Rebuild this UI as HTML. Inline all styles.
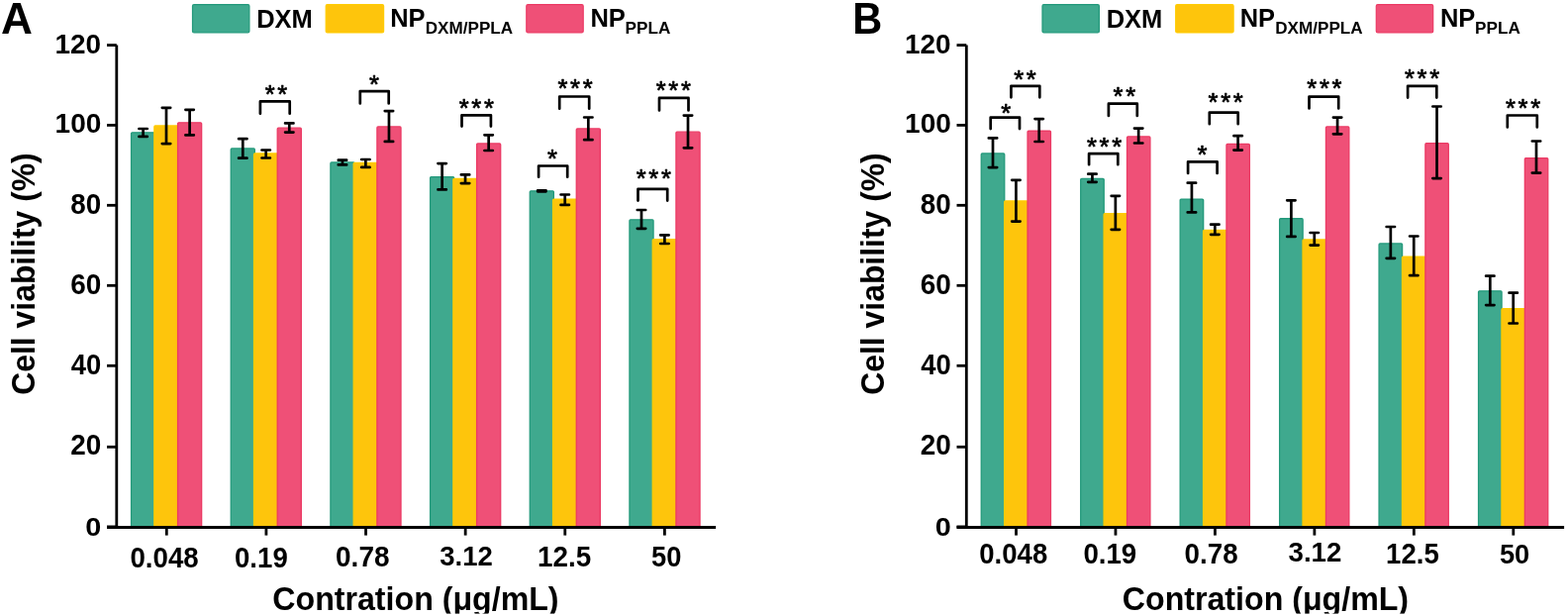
<!DOCTYPE html>
<html><head><meta charset="utf-8"><title>Cell viability</title>
<style>
html,body{margin:0;padding:0;background:#fff;}
body{width:1584px;height:622px;overflow:hidden;}
svg{display:block;}
text{font-family:'Liberation Sans',Arial,sans-serif;fill:#000;}
text.st{font-weight:400;stroke:#000;stroke-width:0.7;stroke-linejoin:round;}
path{fill:none;stroke:#000;stroke-width:2.7;stroke-linecap:round;stroke-linejoin:round;}
path.ax{stroke-width:2.8;stroke-linecap:butt;stroke-linejoin:miter;}
</style></head>
<body>
<svg width="1584" height="622" viewBox="0 0 1584 622">
<rect width="1584" height="622" fill="#fff"/>
<text x="1.10" y="33.60" font-size="43.62" font-weight="700" textLength="31.91" lengthAdjust="spacingAndGlyphs">A</text>
<text x="861.20" y="33.60" font-size="43.62" font-weight="700" textLength="29.95" lengthAdjust="spacingAndGlyphs">B</text>
<rect x="194.50" y="4.60" width="57.40" height="28.40" rx="1.5" fill="#3FA98E" stroke="#23997B" stroke-width="1.2"/>
<text x="259.14" y="27.60" font-size="26.09" font-weight="700" textLength="56.67" lengthAdjust="spacingAndGlyphs">DXM</text>
<rect x="329.20" y="4.60" width="58.40" height="28.40" rx="1.5" fill="#FEC50C" stroke="#FFCC00" stroke-width="1.2"/>
<text x="394.15" y="27.30" font-size="25.80" font-weight="700" textLength="35.32" lengthAdjust="spacingAndGlyphs">NP</text>
<text x="429.79" y="33.98" font-size="15.84" font-weight="700" textLength="88.27" lengthAdjust="spacingAndGlyphs">DXM/PPLA</text>
<rect x="531.80" y="4.60" width="57.40" height="28.40" rx="1.5" fill="#EF5077" stroke="#EB3A64" stroke-width="1.2"/>
<text x="596.44" y="27.30" font-size="25.80" font-weight="700" textLength="35.43" lengthAdjust="spacingAndGlyphs">NP</text>
<text x="631.58" y="34.30" font-size="17.10" font-weight="700" textLength="45.78" lengthAdjust="spacingAndGlyphs">PPLA</text>
<rect x="1053.00" y="4.60" width="57.40" height="28.40" rx="1.5" fill="#3FA98E" stroke="#23997B" stroke-width="1.2"/>
<text x="1117.64" y="27.60" font-size="26.09" font-weight="700" textLength="56.67" lengthAdjust="spacingAndGlyphs">DXM</text>
<rect x="1187.70" y="4.60" width="58.40" height="28.40" rx="1.5" fill="#FEC50C" stroke="#FFCC00" stroke-width="1.2"/>
<text x="1252.65" y="27.30" font-size="25.80" font-weight="700" textLength="35.32" lengthAdjust="spacingAndGlyphs">NP</text>
<text x="1288.29" y="33.98" font-size="15.84" font-weight="700" textLength="88.27" lengthAdjust="spacingAndGlyphs">DXM/PPLA</text>
<rect x="1390.30" y="4.60" width="57.40" height="28.40" rx="1.5" fill="#EF5077" stroke="#EB3A64" stroke-width="1.2"/>
<text x="1454.94" y="27.30" font-size="25.80" font-weight="700" textLength="35.43" lengthAdjust="spacingAndGlyphs">NP</text>
<text x="1490.08" y="34.30" font-size="17.10" font-weight="700" textLength="45.78" lengthAdjust="spacingAndGlyphs">PPLA</text>
<rect x="132.55" y="133.85" width="24.10" height="398.15" rx="1" fill="#3FA98E" stroke="#23997B" stroke-width="1.3"/>
<rect x="155.85" y="126.95" width="24.10" height="405.05" rx="1" fill="#FEC50C" stroke="#FFCC00" stroke-width="1.3"/>
<rect x="179.55" y="123.80" width="24.10" height="408.20" rx="1" fill="#EF5077" stroke="#EB3A64" stroke-width="1.3"/>
<rect x="233.23" y="149.95" width="24.10" height="382.05" rx="1" fill="#3FA98E" stroke="#23997B" stroke-width="1.3"/>
<rect x="256.53" y="154.95" width="24.10" height="377.05" rx="1" fill="#FEC50C" stroke="#FFCC00" stroke-width="1.3"/>
<rect x="280.23" y="129.15" width="24.10" height="402.85" rx="1" fill="#EF5077" stroke="#EB3A64" stroke-width="1.3"/>
<rect x="333.91" y="163.95" width="24.10" height="368.05" rx="1" fill="#3FA98E" stroke="#23997B" stroke-width="1.3"/>
<rect x="357.21" y="164.35" width="24.10" height="367.65" rx="1" fill="#FEC50C" stroke="#FFCC00" stroke-width="1.3"/>
<rect x="380.91" y="127.95" width="24.10" height="404.05" rx="1" fill="#EF5077" stroke="#EB3A64" stroke-width="1.3"/>
<rect x="434.59" y="178.55" width="24.10" height="353.45" rx="1" fill="#3FA98E" stroke="#23997B" stroke-width="1.3"/>
<rect x="457.89" y="180.35" width="24.10" height="351.65" rx="1" fill="#FEC50C" stroke="#FFCC00" stroke-width="1.3"/>
<rect x="481.59" y="144.95" width="24.10" height="387.05" rx="1" fill="#EF5077" stroke="#EB3A64" stroke-width="1.3"/>
<rect x="535.27" y="192.85" width="24.10" height="339.15" rx="1" fill="#3FA98E" stroke="#23997B" stroke-width="1.3"/>
<rect x="558.57" y="201.25" width="24.10" height="330.75" rx="1" fill="#FEC50C" stroke="#FFCC00" stroke-width="1.3"/>
<rect x="582.27" y="129.95" width="24.10" height="402.05" rx="1" fill="#EF5077" stroke="#EB3A64" stroke-width="1.3"/>
<rect x="635.95" y="221.85" width="24.10" height="310.15" rx="1" fill="#3FA98E" stroke="#23997B" stroke-width="1.3"/>
<rect x="659.25" y="241.65" width="24.10" height="290.35" rx="1" fill="#FEC50C" stroke="#FFCC00" stroke-width="1.3"/>
<rect x="682.95" y="133.15" width="24.10" height="398.85" rx="1" fill="#EF5077" stroke="#EB3A64" stroke-width="1.3"/>
<path d="M144.60 130.00V137.90M140.40 130.00H148.80M140.40 137.90H148.80" />
<path d="M168.00 108.80V145.10M163.80 108.80H172.20M163.80 145.10H172.20" />
<path d="M191.60 110.85V136.40M187.40 110.85H195.80M187.40 136.40H195.80" />
<path d="M245.28 140.20V159.70M241.08 140.20H249.48M241.08 159.70H249.48" />
<path d="M268.68 151.50V159.50M264.48 151.50H272.88M264.48 159.50H272.88" />
<path d="M292.28 124.40V133.60M288.08 124.40H296.48M288.08 133.60H296.48" />
<path d="M345.96 161.70V166.40M341.76 161.70H350.16M341.76 166.40H350.16" />
<path d="M369.36 161.00V168.90M365.16 161.00H373.56M365.16 168.90H373.56" />
<path d="M392.96 112.10V142.90M388.76 112.10H397.16M388.76 142.90H397.16" />
<path d="M446.64 165.05V191.40M442.44 165.05H450.84M442.44 191.40H450.84" />
<path d="M470.04 176.40V185.10M465.84 176.40H474.24M465.84 185.10H474.24" />
<path d="M493.64 136.30V152.00M489.44 136.30H497.84M489.44 152.00H497.84" />
<path d="M547.32 192.30V193.30M543.12 192.30H551.52M543.12 193.30H551.52" />
<path d="M570.72 196.50V206.90M566.52 196.50H574.92M566.52 206.90H574.92" />
<path d="M594.32 118.50V141.20M590.12 118.50H598.52M590.12 141.20H598.52" />
<path d="M648.00 212.00V230.80M643.80 212.00H652.20M643.80 230.80H652.20" />
<path d="M671.40 237.40V246.00M667.20 237.40H675.60M667.20 246.00H675.60" />
<path d="M695.00 116.60V149.30M690.80 116.60H699.20M690.80 149.30H699.20" />
<path d="M262.90 114.70V102.40H292.70V114.70" />
<text class="st" x="267.63 280.23" y="103.98" font-size="25.50">**</text>
<path d="M363.80 104.40V92.10H392.70V104.40" />
<text class="st" x="372.88" y="93.98" font-size="25.50">*</text>
<path d="M466.50 127.60V116.30H495.90V127.60" />
<text class="st" x="463.73 476.33 488.93" y="117.93" font-size="25.50">***</text>
<path d="M544.10 178.70V167.50H573.20V178.70" />
<text class="st" x="553.08" y="169.03" font-size="25.50">*</text>
<path d="M565.20 109.70V97.50H595.20V109.70" />
<text class="st" x="563.48 576.08 588.68" y="97.93" font-size="25.50">***</text>
<path d="M644.50 202.60V190.80H674.20V202.60" />
<text class="st" x="642.68 655.28 667.88" y="188.78" font-size="25.50">***</text>
<path d="M666.00 111.50V98.90H695.50V111.50" />
<text class="st" x="662.73 675.33 687.93" y="100.48" font-size="25.50">***</text>
<path class="ax" d="M117.80 45.60V532.50M108.00 532.50H723.10" />
<path class="ax" d="M108.00 45.60H117.80" />
<path class="ax" d="M108.00 126.40H117.80" />
<path class="ax" d="M108.00 207.30H117.80" />
<path class="ax" d="M108.00 288.30H117.80" />
<path class="ax" d="M108.00 369.30H117.80" />
<path class="ax" d="M108.00 451.30H117.80" />
<path class="ax" d="M108.00 531.90H117.80" />
<path class="ax" d="M168.30 532.50V540.6" />
<path class="ax" d="M268.92 532.50V540.6" />
<path class="ax" d="M369.54 532.50V540.6" />
<path class="ax" d="M470.16 532.50V540.6" />
<path class="ax" d="M570.78 532.50V540.6" />
<path class="ax" d="M671.40 532.50V540.6" />
<text x="55.42" y="53.82" font-size="28.45" font-weight="700" textLength="46.59" lengthAdjust="spacingAndGlyphs">120</text>
<text x="55.62" y="134.42" font-size="28.03" font-weight="700" textLength="46.70" lengthAdjust="spacingAndGlyphs">100</text>
<text x="71.37" y="215.71" font-size="28.59" font-weight="700" textLength="30.91" lengthAdjust="spacingAndGlyphs">80</text>
<text x="71.22" y="296.71" font-size="28.59" font-weight="700" textLength="31.06" lengthAdjust="spacingAndGlyphs">60</text>
<text x="71.79" y="377.71" font-size="28.59" font-weight="700" textLength="30.47" lengthAdjust="spacingAndGlyphs">40</text>
<text x="71.22" y="459.31" font-size="28.59" font-weight="700" textLength="31.06" lengthAdjust="spacingAndGlyphs">20</text>
<text x="86.35" y="540.84" font-size="26.06" font-weight="700" textLength="16.04" lengthAdjust="spacingAndGlyphs">0</text>
<text x="131.49" y="572.81" font-size="29.15" font-weight="700" textLength="69.20" lengthAdjust="spacingAndGlyphs">0.048</text>
<text x="236.99" y="572.81" font-size="29.15" font-weight="700" textLength="53.81" lengthAdjust="spacingAndGlyphs">0.19</text>
<text x="339.08" y="572.31" font-size="29.01" font-weight="700" textLength="54.39" lengthAdjust="spacingAndGlyphs">0.78</text>
<text x="444.31" y="571.02" font-size="28.45" font-weight="700" textLength="53.63" lengthAdjust="spacingAndGlyphs">3.12</text>
<text x="542.93" y="571.91" font-size="29.01" font-weight="700" textLength="54.20" lengthAdjust="spacingAndGlyphs">12.5</text>
<text x="658.08" y="572.21" font-size="28.87" font-weight="700" textLength="30.38" lengthAdjust="spacingAndGlyphs">50</text>
<text x="275.31" y="615.60" font-size="33.30" font-weight="700" textLength="289.27" lengthAdjust="spacingAndGlyphs">Contration (μg/mL)</text>
<text transform="translate(34.60,398.78) rotate(-90)" x="0" y="0" font-size="33.80" font-weight="700" textLength="244.52" lengthAdjust="spacingAndGlyphs">Cell viability (%)</text>
<rect x="991.25" y="154.95" width="23.50" height="377.05" rx="1" fill="#3FA98E" stroke="#23997B" stroke-width="1.3"/>
<rect x="1014.65" y="202.95" width="23.50" height="329.05" rx="1" fill="#FEC50C" stroke="#FFCC00" stroke-width="1.3"/>
<rect x="1038.05" y="132.25" width="23.40" height="399.75" rx="1" fill="#EF5077" stroke="#EB3A64" stroke-width="1.3"/>
<rect x="1091.71" y="180.35" width="23.50" height="351.65" rx="1" fill="#3FA98E" stroke="#23997B" stroke-width="1.3"/>
<rect x="1115.11" y="215.55" width="23.50" height="316.45" rx="1" fill="#FEC50C" stroke="#FFCC00" stroke-width="1.3"/>
<rect x="1138.51" y="137.95" width="23.40" height="394.05" rx="1" fill="#EF5077" stroke="#EB3A64" stroke-width="1.3"/>
<rect x="1192.17" y="201.05" width="23.50" height="330.95" rx="1" fill="#3FA98E" stroke="#23997B" stroke-width="1.3"/>
<rect x="1215.57" y="232.45" width="23.50" height="299.55" rx="1" fill="#FEC50C" stroke="#FFCC00" stroke-width="1.3"/>
<rect x="1238.97" y="145.45" width="23.40" height="386.55" rx="1" fill="#EF5077" stroke="#EB3A64" stroke-width="1.3"/>
<rect x="1292.63" y="220.75" width="23.50" height="311.25" rx="1" fill="#3FA98E" stroke="#23997B" stroke-width="1.3"/>
<rect x="1316.03" y="241.95" width="23.50" height="290.05" rx="1" fill="#FEC50C" stroke="#FFCC00" stroke-width="1.3"/>
<rect x="1339.43" y="127.95" width="23.40" height="404.05" rx="1" fill="#EF5077" stroke="#EB3A64" stroke-width="1.3"/>
<rect x="1393.09" y="245.95" width="23.50" height="286.05" rx="1" fill="#3FA98E" stroke="#23997B" stroke-width="1.3"/>
<rect x="1416.49" y="259.05" width="23.50" height="272.95" rx="1" fill="#FEC50C" stroke="#FFCC00" stroke-width="1.3"/>
<rect x="1439.89" y="144.65" width="23.40" height="387.35" rx="1" fill="#EF5077" stroke="#EB3A64" stroke-width="1.3"/>
<rect x="1493.55" y="293.85" width="23.50" height="238.15" rx="1" fill="#3FA98E" stroke="#23997B" stroke-width="1.3"/>
<rect x="1516.95" y="311.65" width="23.50" height="220.35" rx="1" fill="#FEC50C" stroke="#FFCC00" stroke-width="1.3"/>
<rect x="1540.35" y="159.55" width="23.40" height="372.45" rx="1" fill="#EF5077" stroke="#EB3A64" stroke-width="1.3"/>
<path d="M1003.00 139.40V169.10M998.80 139.40H1007.20M998.80 169.10H1007.20" />
<path d="M1026.40 181.80V223.60M1022.20 181.80H1030.60M1022.20 223.60H1030.60" />
<path d="M1049.70 120.10V143.00M1045.50 120.10H1053.90M1045.50 143.00H1053.90" />
<path d="M1103.46 175.70V183.80M1099.26 175.70H1107.66M1099.26 183.80H1107.66" />
<path d="M1126.86 197.80V231.80M1122.66 197.80H1131.06M1122.66 231.80H1131.06" />
<path d="M1150.16 129.60V144.50M1145.96 129.60H1154.36M1145.96 144.50H1154.36" />
<path d="M1203.92 184.70V214.40M1199.72 184.70H1208.12M1199.72 214.40H1208.12" />
<path d="M1227.32 226.70V236.80M1223.12 226.70H1231.52M1223.12 236.80H1231.52" />
<path d="M1250.62 137.20V151.60M1246.42 137.20H1254.82M1246.42 151.60H1254.82" />
<path d="M1304.38 202.30V238.90M1300.18 202.30H1308.58M1300.18 238.90H1308.58" />
<path d="M1327.78 235.00V247.60M1323.58 235.00H1331.98M1323.58 247.60H1331.98" />
<path d="M1351.08 118.60V135.30M1346.88 118.60H1355.28M1346.88 135.30H1355.28" />
<path d="M1404.84 229.00V260.80M1400.64 229.00H1409.04M1400.64 260.80H1409.04" />
<path d="M1428.24 238.50V278.20M1424.04 238.50H1432.44M1424.04 278.20H1432.44" />
<path d="M1451.54 107.50V180.10M1447.34 107.50H1455.74M1447.34 180.10H1455.74" />
<path d="M1505.30 278.70V308.10M1501.10 278.70H1509.50M1501.10 308.10H1509.50" />
<path d="M1528.70 295.70V326.50M1524.50 295.70H1532.90M1524.50 326.50H1532.90" />
<path d="M1552.00 142.50V174.60M1547.80 142.50H1556.20M1547.80 174.60H1556.20" />
<path d="M1000.70 130.10V118.60H1030.00V130.10" />
<text class="st" x="1011.33" y="123.43" font-size="25.50">*</text>
<path d="M1021.40 98.30V86.80H1050.30V98.30" />
<text class="st" x="1024.18 1036.78" y="88.83" font-size="25.50">**</text>
<path d="M1100.10 166.20V155.10H1129.30V166.20" />
<text class="st" x="1097.98 1110.58 1123.18" y="156.53" font-size="25.50">***</text>
<path d="M1119.90 117.00V104.70H1148.80V117.00" />
<text class="st" x="1124.58 1137.18" y="105.73" font-size="25.50">**</text>
<path d="M1200.10 175.00V163.30H1229.60V175.00" />
<text class="st" x="1209.43" y="164.78" font-size="25.50">*</text>
<path d="M1221.80 125.20V113.60H1250.70V125.20" />
<text class="st" x="1220.58 1233.18 1245.78" y="112.18" font-size="25.50">***</text>
<path d="M1322.50 109.40V97.60H1352.20V109.40" />
<text class="st" x="1320.28 1332.88 1345.48" y="98.33" font-size="25.50">***</text>
<path d="M1422.10 98.60V86.80H1451.30V98.60" />
<text class="st" x="1418.98 1431.58 1444.18" y="87.93" font-size="25.50">***</text>
<path d="M1522.80 128.40V116.50H1552.80V128.40" />
<text class="st" x="1520.93 1533.53 1546.13" y="118.43" font-size="25.50">***</text>
<path class="ax" d="M976.30 45.60V532.50M966.50 532.50H1580.10" />
<path class="ax" d="M966.50 45.60H976.30" />
<path class="ax" d="M966.50 126.40H976.30" />
<path class="ax" d="M966.50 207.30H976.30" />
<path class="ax" d="M966.50 288.30H976.30" />
<path class="ax" d="M966.50 369.30H976.30" />
<path class="ax" d="M966.50 451.30H976.30" />
<path class="ax" d="M966.50 531.90H976.30" />
<path class="ax" d="M1026.50 532.50V540.6" />
<path class="ax" d="M1126.96 532.50V540.6" />
<path class="ax" d="M1227.42 532.50V540.6" />
<path class="ax" d="M1327.88 532.50V540.6" />
<path class="ax" d="M1428.34 532.50V540.6" />
<path class="ax" d="M1528.80 532.50V540.6" />
<text x="913.92" y="53.82" font-size="28.45" font-weight="700" textLength="46.59" lengthAdjust="spacingAndGlyphs">120</text>
<text x="914.12" y="134.42" font-size="28.03" font-weight="700" textLength="46.70" lengthAdjust="spacingAndGlyphs">100</text>
<text x="929.87" y="215.71" font-size="28.59" font-weight="700" textLength="30.91" lengthAdjust="spacingAndGlyphs">80</text>
<text x="929.72" y="296.71" font-size="28.59" font-weight="700" textLength="31.06" lengthAdjust="spacingAndGlyphs">60</text>
<text x="930.29" y="377.71" font-size="28.59" font-weight="700" textLength="30.47" lengthAdjust="spacingAndGlyphs">40</text>
<text x="929.72" y="459.31" font-size="28.59" font-weight="700" textLength="31.06" lengthAdjust="spacingAndGlyphs">20</text>
<text x="944.85" y="540.84" font-size="26.06" font-weight="700" textLength="16.04" lengthAdjust="spacingAndGlyphs">0</text>
<text x="989.30" y="569.41" font-size="29.01" font-weight="700" textLength="68.90" lengthAdjust="spacingAndGlyphs">0.048</text>
<text x="1094.39" y="568.71" font-size="28.73" font-weight="700" textLength="53.91" lengthAdjust="spacingAndGlyphs">0.19</text>
<text x="1196.59" y="568.71" font-size="28.73" font-weight="700" textLength="53.98" lengthAdjust="spacingAndGlyphs">0.78</text>
<text x="1301.51" y="567.22" font-size="28.03" font-weight="700" textLength="53.83" lengthAdjust="spacingAndGlyphs">3.12</text>
<text x="1400.05" y="568.51" font-size="29.01" font-weight="700" textLength="53.68" lengthAdjust="spacingAndGlyphs">12.5</text>
<text x="1514.88" y="568.52" font-size="28.45" font-weight="700" textLength="30.38" lengthAdjust="spacingAndGlyphs">50</text>
<text x="1133.81" y="615.60" font-size="33.30" font-weight="700" textLength="289.27" lengthAdjust="spacingAndGlyphs">Contration (μg/mL)</text>
<text transform="translate(893.10,398.78) rotate(-90)" x="0" y="0" font-size="33.80" font-weight="700" textLength="244.52" lengthAdjust="spacingAndGlyphs">Cell viability (%)</text>
<rect x="0" y="619.6" width="1584" height="3" fill="#fff"/>
</svg>
</body></html>
